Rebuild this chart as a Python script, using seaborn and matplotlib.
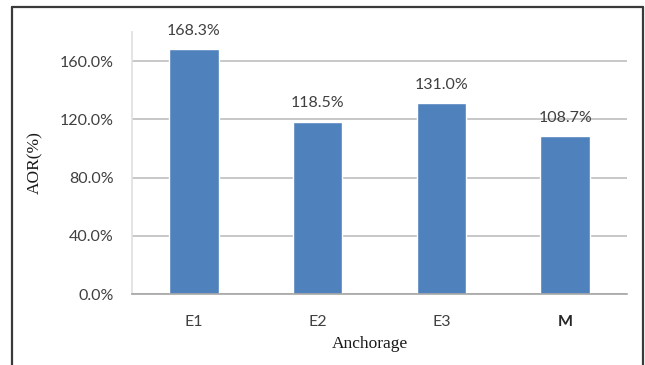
import matplotlib
matplotlib.use("Agg")
import matplotlib.pyplot as plt
from matplotlib.lines import Line2D
from matplotlib.ticker import FixedLocator
import seaborn as sns
import pandas as pd

categories = ["E1", "E2", "E3", "M"]
aor_values = [168.3, 118.5, 131.0, 108.7]
y_ticks = [0, 40, 80, 120, 160]

sns.set_theme(style="white")
plt.rcParams["font.family"] = ["Lato", "DejaVu Sans"]

df = pd.DataFrame({"Anchorage": categories, "AOR": aor_values})

W, H = 645, 365
fig = plt.figure(figsize=(W / 100, H / 100), dpi=100)
ax = fig.add_axes([132 / W, 1 - 294 / H, (627 - 132) / W, (294 - 32) / H])

sns.barplot(data=df, x="Anchorage", y="AOR", color="#4F81BD", width=0.4,
            saturation=1, ax=ax)

ax.set_xlim(-0.5, 3.5)
ax.set_ylim(0, 180)
ax.set_yticks(y_ticks)
ax.set_yticklabels([f"{v:.1f}%" for v in y_ticks])
ax.yaxis.grid(True, color="#BEBEBE", linewidth=1.2)
ax.set_axisbelow(True)

for side in ["top", "right"]:
    ax.spines[side].set_visible(False)
ax.spines["left"].set_color("#E0E0E0")
ax.spines["bottom"].set_color("#A6A6A6")
ax.spines["bottom"].set_linewidth(1.2)

ax.tick_params(axis="y", length=7, color="#BEBEBE", width=1.2,
               labelsize=11.5, labelcolor="#404040", pad=6)
ax.tick_params(axis="x", which="major", length=0, labelsize=11.5,
               labelcolor="#404040", pad=15)
ax.xaxis.set_minor_locator(FixedLocator([-0.5, 0.5, 1.5, 2.5, 3.5]))
ax.tick_params(axis="x", which="minor", length=5, color="#A6A6A6", width=1.2)

ax.get_xticklabels()[-1].set_fontweight("bold")
ax.get_xticklabels()[-1].set_color("#262626")

serif = ["Liberation Serif", "DejaVu Serif"]
ax.set_xlabel("Anchorage", family=serif, fontsize=12.5, color="#1A1A1A")
ax.set_ylabel("AOR(%)", family=serif, fontsize=12.5, color="#1A1A1A",
              labelpad=12)
ax.xaxis.set_label_coords(0.48, -0.162)

for container in ax.containers:
    ax.bar_label(container, labels=[f"{v:.1f}%" for v in aor_values],
                 padding=8, fontsize=11.5, color="#404040")

# outer frame around the figure
frame = dict(color="#3A3A3A", linewidth=1.6)
fig.add_artist(Line2D([12 / W, 12 / W], [0, 1 - 7 / H], transform=fig.transFigure, **frame))
fig.add_artist(Line2D([12 / W, 643 / W], [1 - 7 / H, 1 - 7 / H], transform=fig.transFigure, **frame))
fig.add_artist(Line2D([643 / W, 643 / W], [0, 1 - 7 / H], transform=fig.transFigure, **frame))

fig.savefig("out.png", dpi=100)
